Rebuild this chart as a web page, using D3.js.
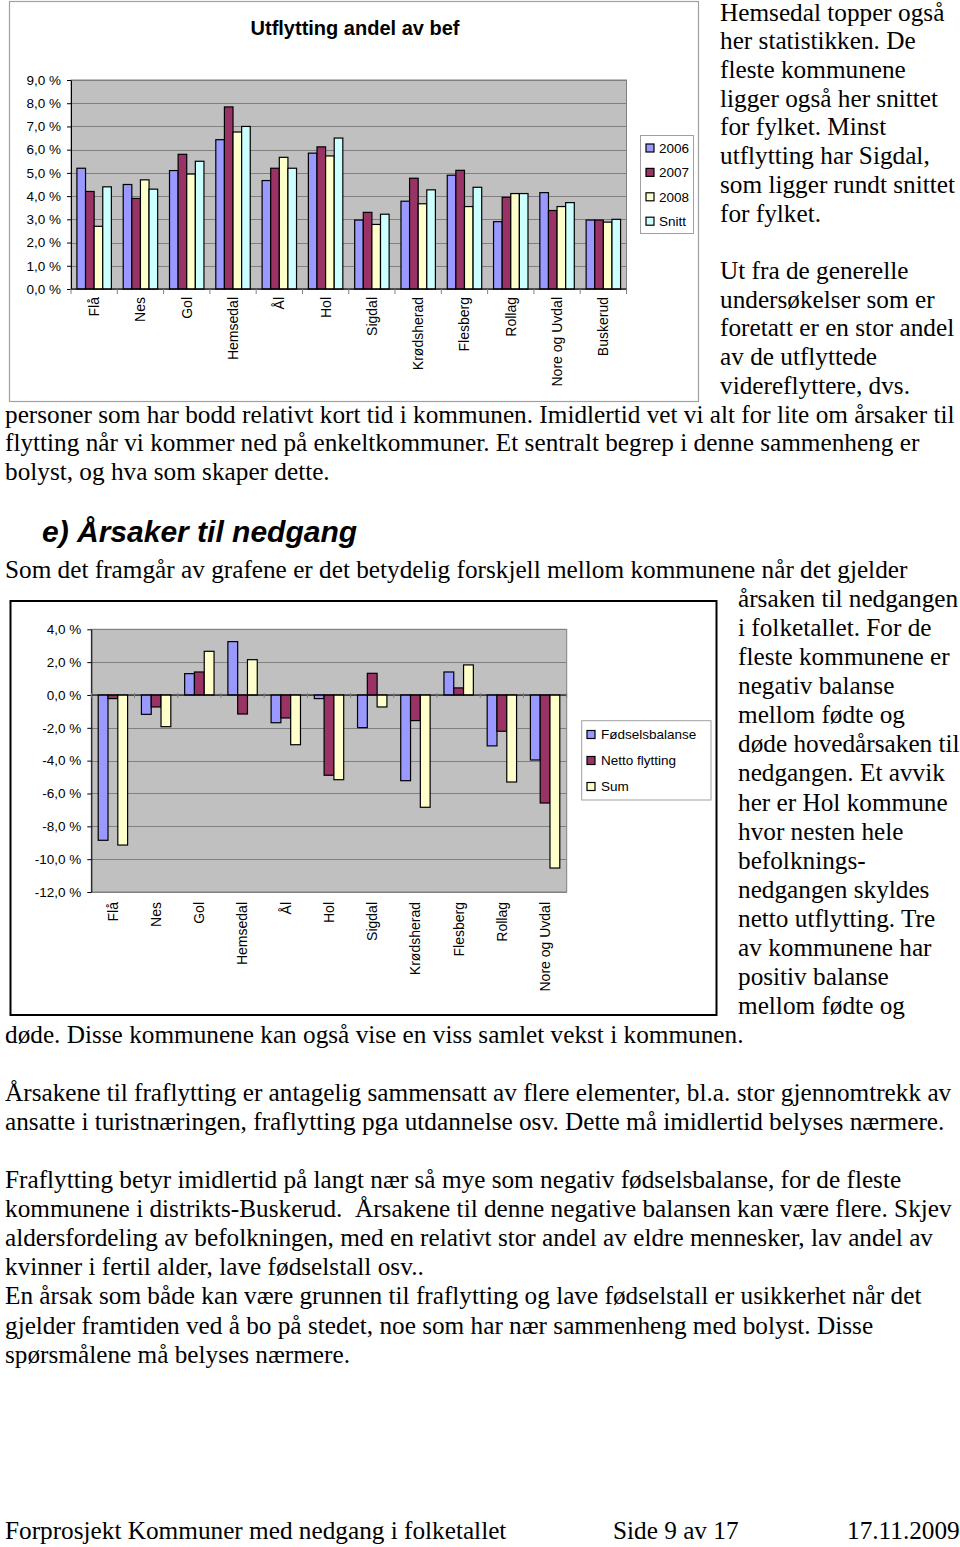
<!DOCTYPE html>
<html><head><meta charset="utf-8">
<script src="https://cdn.jsdelivr.net/npm/d3@7/dist/d3.min.js"></script>
<style>body{margin:0;background:#fff}svg{display:block}</style>
</head><body><svg id="page" width="960" height="1547"></svg>
<script>
// ---------- Chart 1 data: Utflytting andel av bef (%) ----------
const categories1 = ["Flå","Nes","Gol","Hemsedal","Ål","Hol","Sigdal","Krødsherad","Flesberg","Rollag","Nore og Uvdal","Buskerud"];
const series1 = ["2006","2007","2008","Snitt"];
const v2006  = [5.2, 4.5, 5.1, 6.43, 4.67, 5.85, 2.97, 3.78, 4.9, 2.9, 4.15, 2.97];
const v2007  = [4.2, 3.9, 5.8, 7.84, 5.2, 6.12, 3.3, 4.77, 5.11, 3.95, 3.38, 2.97];
const v2008  = [2.7, 4.7, 4.95, 6.76, 5.67, 5.73, 2.78, 3.67, 3.55, 4.11, 3.55, 2.88];
const vSnitt = [4.4, 4.3, 5.5, 7.0, 5.2, 6.5, 3.22, 4.27, 4.38, 4.11, 3.72, 3.0];
const ticks1 = [0,1,2,3,4,5,6,7,8,9];

// ---------- Chart 2 data: Årsaker til nedgang (%) ----------
const categories2 = ["Flå","Nes","Gol","Hemsedal","Ål","Hol","Sigdal","Krødsherad","Flesberg","Rollag","Nore og Uvdal"];
const series2 = ["Fødselsbalanse","Netto flytting","Sum"];
const fodselsbalanse = [-8.85, -1.18, 1.3, 3.25, -1.69, -0.22, -1.99, -5.22, 1.4, -3.1, -3.96];
const nettoFlytting  = [-0.22, -0.73, 1.4, -1.16, -1.4, -4.89, 1.32, -1.56, 0.43, -2.21, -6.58];
const sumValues      = [-9.14, -1.93, 2.66, 2.15, -3.03, -5.16, -0.73, -6.84, 1.83, -5.3, -10.54];
const ticks2 = [4,2,0,-2,-4,-6,-8,-10,-12];

const colors1 = ["#9999ff","#993366","#ffffcc","#ccffff"];
const colors2 = ["#9999ff","#993366","#ffffcc"];
const fmt = d => d.toFixed(1).replace(".", ",") + " %";

const svg = d3.select("#page");
svg.append("rect").attr("width",960).attr("height",1547).attr("fill","#fff");
const SANS = "'Liberation Sans', Arial, sans-serif";
const SERIF = "'Liberation Serif', 'Times New Roman', serif";

function barChart(g, opt) {
  const {cats, seriesNames, values, colors, ticks, domain, x0, x1, yTop, yBot, gapFrac, catLabelY, fontSize} = opt;
  const x = d3.scaleBand().domain(cats).range([x0, x1]).paddingInner(0).paddingOuter(0);
  const y = d3.scaleLinear().domain(domain).range([yBot, yTop]);
  const bw = x.bandwidth();
  const xs = d3.scaleBand().domain(seriesNames).range([bw*gapFrac/2, bw - bw*gapFrac/2]).padding(0);
  g.append("rect").attr("x", x0).attr("y", yTop).attr("width", x1-x0).attr("height", yBot-yTop)
    .attr("fill","#c0c0c0").attr("stroke","#808080");
  g.append("g").selectAll("line").data(ticks).join("line")
    .attr("x1", x0).attr("x2", x1).attr("y1", d=>Math.round(y(d))+0.5).attr("y2", d=>Math.round(y(d))+0.5)
    .attr("stroke","#808080").attr("stroke-width",1);
  seriesNames.forEach((s, si) => {
    g.append("g").selectAll("rect").data(cats.map((c,i)=>({c, v: values[si][i]}))).join("rect")
      .attr("x", d => x(d.c) + xs(s))
      .attr("width", xs.bandwidth())
      .attr("y", d => Math.min(y(d.v), y(0)))
      .attr("height", d => Math.abs(y(d.v) - y(0)))
      .attr("fill", colors[si]).attr("stroke","#000").attr("stroke-width",1.2);
  });
  const ya = g.append("g").attr("transform", `translate(${x0},0)`)
    .call(d3.axisLeft(y).tickValues(ticks).tickFormat(fmt).tickSize(4).tickPadding(6).tickSizeOuter(0));
  ya.select(".domain").attr("stroke","#000");
  ya.selectAll(".tick line").attr("stroke","#000");
  ya.selectAll("text").attr("font-family", SANS).attr("font-size", fontSize).attr("fill","#000");
  const y0 = y(0);
  g.append("line").attr("x1", x0).attr("x2", x1).attr("y1", y0).attr("y2", y0).attr("stroke","#000").attr("stroke-width",1);
  const bounds = cats.map(c => x(c)).concat([x1]);
  g.append("g").selectAll("line").data(bounds).join("line")
    .attr("x1", d=>d).attr("x2", d=>d).attr("y1", y0 - opt.tickUp).attr("y2", y0 + opt.tickDown)
    .attr("stroke", "#808080");
  g.append("g").selectAll("text").data(cats).join("text")
    .attr("transform", c => `translate(${x(c)+bw/2},${catLabelY}) rotate(-90)`)
    .attr("text-anchor","end").attr("dy","0.35em")
    .attr("font-family", SANS).attr("font-size", fontSize + 0.5).attr("fill","#000")
    .text(c => c);
}

function legend(g, names, colors, lx, ly, lw, lh, firstY, step, swX, txX, stroke) {
  g.append("rect").attr("x", lx).attr("y", ly).attr("width", lw).attr("height", lh)
    .attr("fill","#fff").attr("stroke", stroke);
  names.forEach((n,i) => {
    const cy = firstY + i*step;
    g.append("rect").attr("x", swX).attr("y", cy-4).attr("width",8).attr("height",8)
      .attr("fill", colors[i]).attr("stroke","#000").attr("stroke-width",1.2);
    g.append("text").attr("x", txX).attr("y", cy).attr("dy","0.36em")
      .attr("font-family", SANS).attr("font-size", 13.5).attr("fill","#000").text(n);
  });
}

// ---------- Chart 1 ----------
const c1 = svg.append("g");
c1.append("rect").attr("x",9.5).attr("y",1.5).attr("width",689).attr("height",400)
  .attr("fill","#fff").attr("stroke","#a0a0a0").attr("stroke-width",1.2);
c1.append("text").attr("x",355).attr("y",35).attr("text-anchor","middle")
  .attr("font-family",SANS).attr("font-weight","bold").attr("font-size",20).text("Utflytting andel av bef");
barChart(c1, {cats: categories1, seriesNames: series1, values: [v2006,v2007,v2008,vSnitt], colors: colors1,
  ticks: ticks1, domain: [0,9], x0: 71, x1: 626.5, yTop: 80, yBot: 289, gapFrac: 0.256,
  catLabelY: 297, fontSize: 13.5, tickUp: 0, tickDown: 5});
legend(c1, series1, colors1, 640.5, 135.5, 53, 98, 148, 24.4, 646, 659, "#a0a0a0");

// ---------- Chart 2 ----------
const c2 = svg.append("g");
c2.append("rect").attr("x",10.5).attr("y",601).attr("width",706).attr("height",414)
  .attr("fill","#fff").attr("stroke","#000").attr("stroke-width",2);
barChart(c2, {cats: categories2, seriesNames: series2, values: [fodselsbalanse,nettoFlytting,sumValues], colors: colors2,
  ticks: ticks2, domain: [-12,4], x0: 91.3, x1: 566.7, yTop: 629.3, yBot: 892, gapFrac: 0.32,
  catLabelY: 902, fontSize: 13.5, tickUp: 2, tickDown: 3});
legend(c2, series2, colors2, 581.7, 720.7, 129.3, 79.3, 734.5, 26, 587, 601, "#a0a0a0");

// ---------- Body text ----------
const T = svg.append("g").attr("font-family", SERIF).attr("font-size", 25.25).attr("fill","#000");
function line(t, x, y) { T.append("text").attr("x", x).attr("y", y).attr("xml:space","preserve").text(t); }

const blockA = ["Hemsedal topper også","her statistikken. De","fleste kommunene","ligger også her snittet",
  "for fylket. Minst","utflytting har Sigdal,","som ligger rundt snittet","for fylket.","",
  "Ut fra de generelle","undersøkelser som er","foretatt er en stor andel","av de utflyttede","videreflyttere, dvs.",
  "personer som har bodd relativt kort tid i kommunen. Imidlertid vet vi alt for lite om årsaker til",
  "flytting når vi kommer ned på enkeltkommuner. Et sentralt begrep i denne sammenheng er",
  "bolyst, og hva som skaper dette."];
blockA.forEach((t,i) => { if (t) line(t, i < 14 ? 720 : 5, 20.5 + i*28.72); });

svg.append("text").attr("x",42).attr("y",542).attr("font-family",SANS).attr("font-weight","bold")
  .attr("font-style","italic").attr("font-size",30).text("e) Årsaker til nedgang");

const blockC = ["Som det framgår av grafene er det betydelig forskjell mellom kommunene når det gjelder",
  "årsaken til nedgangen","i folketallet. For de","fleste kommunene er","negativ balanse","mellom fødte og",
  "døde hovedårsaken til","nedgangen. Et avvik","her er Hol kommune","hvor nesten hele","befolknings-",
  "nedgangen skyldes","netto utflytting. Tre","av kommunene har","positiv balanse","mellom fødte og",
  "døde. Disse kommunene kan også vise en viss samlet vekst i kommunen."];
blockC.forEach((t,i) => { if (t) line(t, (i === 0 || i === 16) ? 5 : 738, 578 + i*29.07); });

const blockD = ["Årsakene til fraflytting er antagelig sammensatt av flere elementer, bl.a. stor gjennomtrekk av",
  "ansatte i turistnæringen, fraflytting pga utdannelse osv. Dette må imidlertid belyses nærmere.","",
  "Fraflytting betyr imidlertid på langt nær så mye som negativ fødselsbalanse, for de fleste",
  "kommunene i distrikts-Buskerud.  Årsakene til denne negative balansen kan være flere. Skjev",
  "aldersfordeling av befolkningen, med en relativt stor andel av eldre mennesker, lav andel av",
  "kvinner i fertil alder, lave fødselstall osv..",
  "En årsak som både kan være grunnen til fraflytting og lave fødselstall er usikkerhet når det",
  "gjelder framtiden ved å bo på stedet, noe som har nær sammenheng med bolyst. Disse",
  "spørsmålene må belyses nærmere."];
blockD.forEach((t,i) => { if (t) line(t, 5, 1101 + i*29.07); });

line("Forprosjekt Kommuner med nedgang i folketallet", 5, 1539);
line("Side 9 av 17", 613, 1539);
line("17.11.2009", 847, 1539);
</script></body></html>
